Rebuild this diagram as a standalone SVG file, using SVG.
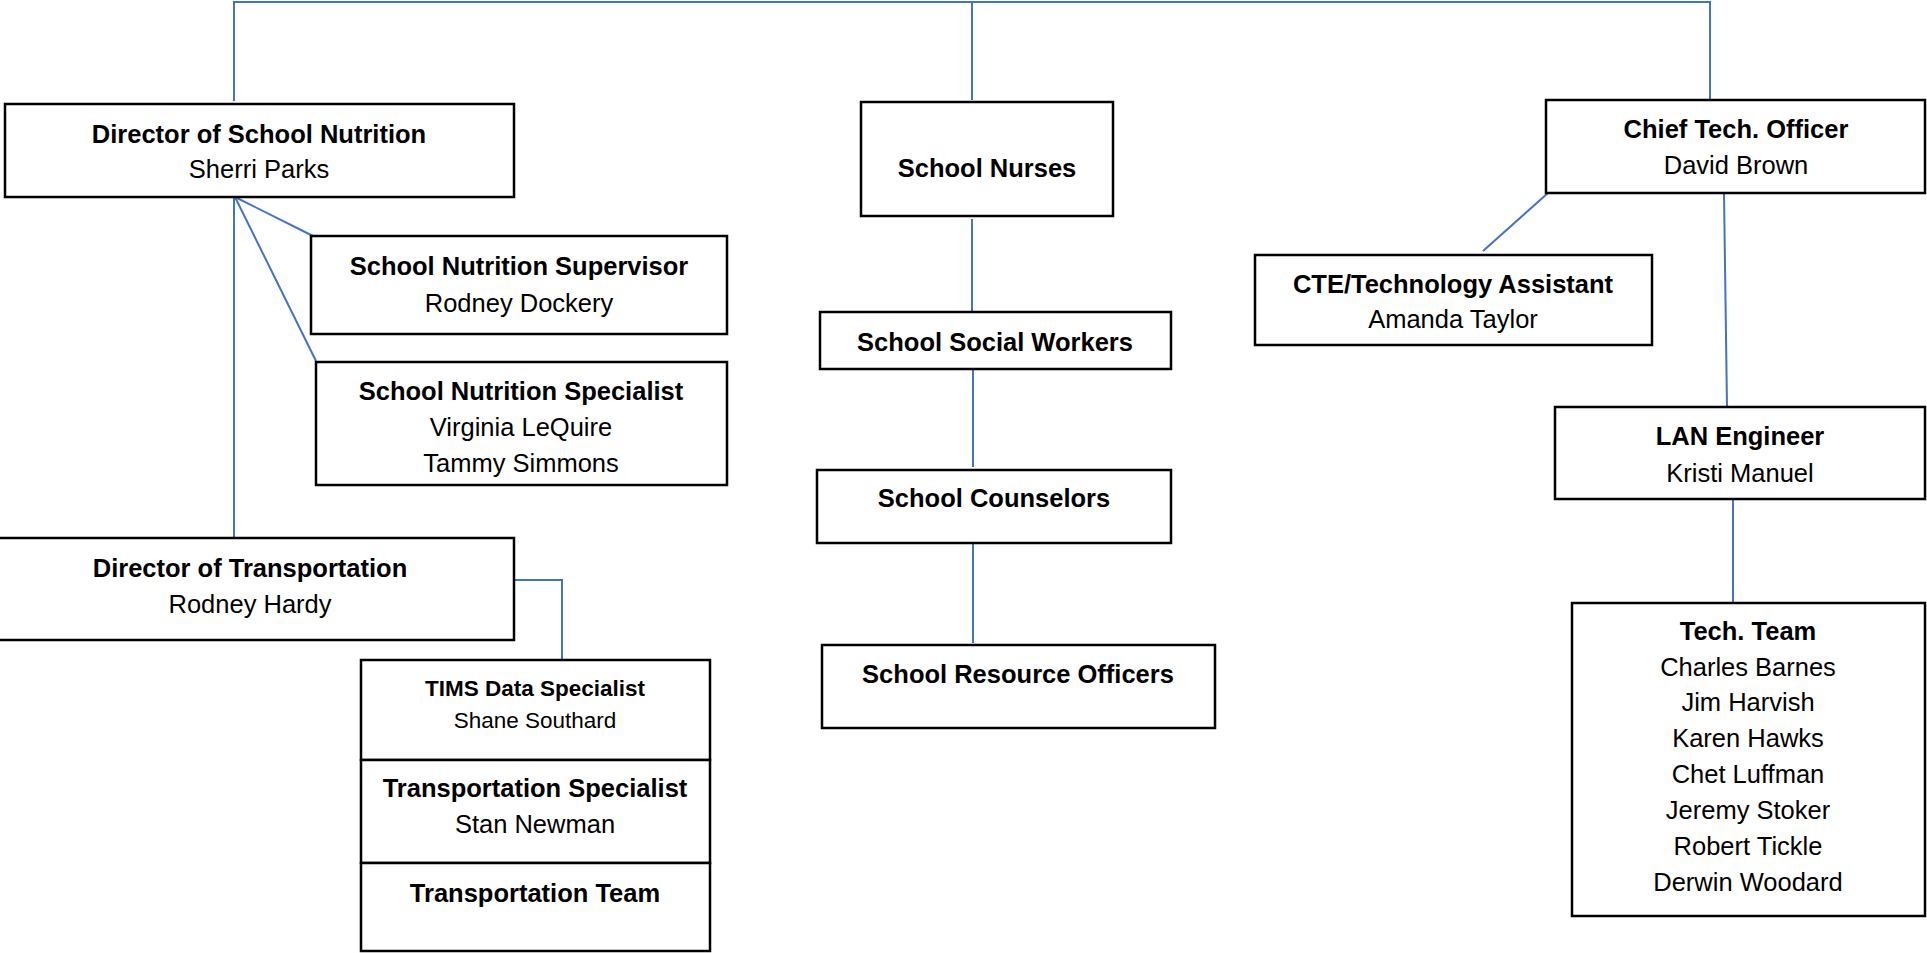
<svg xmlns="http://www.w3.org/2000/svg" width="1927" height="953" viewBox="0 0 1927 953">
<style>
.box{fill:#fff;stroke:#000;stroke-width:2.5}
.c{fill:none;stroke:#4472C4;stroke-width:2}
text{font-family:"Liberation Sans",Arial,sans-serif;font-size:25.5px;fill:#000;text-anchor:middle}
.b{font-weight:bold}
.s{font-size:22.5px}
</style>
<rect width="1927" height="953" fill="#fff"/>
<g id="connectors">
<polyline class="c" points="234,101 234,2 1710,2 1710,100"/>
<line class="c" x1="972" y1="2" x2="972" y2="100"/>
<line class="c" x1="234" y1="197" x2="234" y2="537"/>
<line class="c" x1="235" y1="197" x2="313" y2="236"/>
<line class="c" x1="235" y1="197" x2="316" y2="361"/>
<polyline class="c" points="514,580 562,580 562,660"/>
<line class="c" x1="972" y1="219" x2="972" y2="313"/>
<line class="c" x1="973" y1="369" x2="973" y2="467"/>
<line class="c" x1="973" y1="543" x2="973" y2="643"/>
<line class="c" x1="1548" y1="193" x2="1483" y2="251"/>
<line class="c" x1="1724" y1="193" x2="1727" y2="407"/>
<line class="c" x1="1733" y1="499" x2="1733" y2="602"/>
</g>
<g id="dir-nutrition"><rect class="box" x="5" y="104" width="509" height="93"/>
<text class="b" x="259" y="143">Director of School Nutrition</text><text x="259" y="178">Sherri Parks</text></g>
<g id="nutrition-supervisor"><rect class="box" x="311" y="236" width="416" height="98"/>
<text class="b" x="519" y="275">School Nutrition Supervisor</text><text x="519" y="312">Rodney Dockery</text></g>
<g id="nutrition-specialist"><rect class="box" x="316" y="362" width="411" height="123"/>
<text class="b" x="521" y="400">School Nutrition Specialist</text><text x="521" y="436">Virginia LeQuire</text><text x="521" y="472">Tammy Simmons</text></g>
<g id="dir-transportation"><rect class="box" x="-3" y="538" width="517" height="102"/>
<text class="b" x="250" y="577">Director of Transportation</text><text x="250" y="613">Rodney Hardy</text></g>
<g id="tims"><rect class="box" x="361" y="660" width="349" height="100"/>
<text class="b s" x="535" y="696">TIMS Data Specialist</text><text class="s" x="535" y="728">Shane Southard</text></g>
<g id="transportation-specialist"><rect class="box" x="361" y="760" width="349" height="103"/>
<text class="b" x="535" y="797">Transportation Specialist</text><text x="535" y="833">Stan Newman</text></g>
<g id="transportation-team"><rect class="box" x="361" y="863" width="349" height="88"/>
<text class="b" x="535" y="902">Transportation Team</text></g>
<g id="school-nurses"><rect class="box" x="861" y="102" width="252" height="114"/>
<text class="b" x="987" y="177">School Nurses</text></g>
<g id="social-workers"><rect class="box" x="820" y="312" width="351" height="57"/>
<text class="b" x="995" y="351">School Social Workers</text></g>
<g id="counselors"><rect class="box" x="817" y="470" width="354" height="73"/>
<text class="b" x="994" y="507">School Counselors</text></g>
<g id="resource-officers"><rect class="box" x="822" y="645" width="393" height="83"/>
<text class="b" x="1018" y="683">School Resource Officers</text></g>
<g id="chief-tech"><rect class="box" x="1546" y="100" width="379" height="93"/>
<text class="b" x="1736" y="138">Chief Tech. Officer</text><text x="1736" y="174">David Brown</text></g>
<g id="cte-assistant"><rect class="box" x="1255" y="255" width="397" height="90"/>
<text class="b" x="1453" y="293">CTE/Technology Assistant</text><text x="1453" y="328">Amanda Taylor</text></g>
<g id="lan-engineer"><rect class="box" x="1555" y="407" width="370" height="92"/>
<text class="b" x="1740" y="445">LAN Engineer</text><text x="1740" y="482">Kristi Manuel</text></g>
<g id="tech-team"><rect class="box" x="1572" y="603" width="353" height="313"/>
<text class="b" x="1748" y="640">Tech. Team</text>
<text x="1748" y="676">Charles Barnes</text><text x="1748" y="711">Jim Harvish</text><text x="1748" y="747">Karen Hawks</text><text x="1748" y="783">Chet Luffman</text><text x="1748" y="819">Jeremy Stoker</text><text x="1748" y="855">Robert Tickle</text><text x="1748" y="891">Derwin Woodard</text></g>
</svg>
